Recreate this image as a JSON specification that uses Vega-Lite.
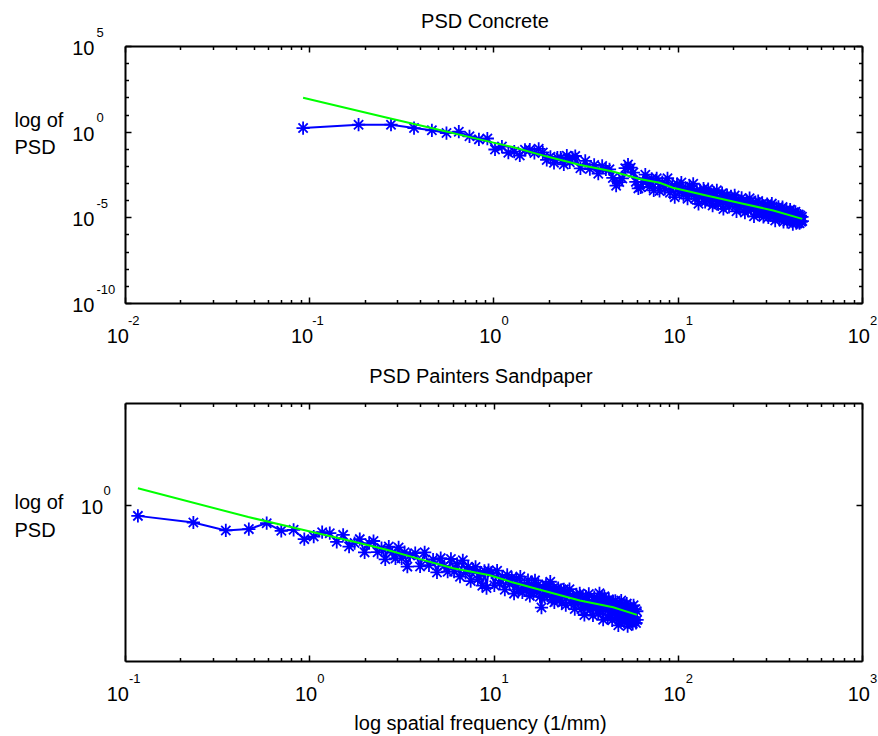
{
  "$schema": "https://vega.github.io/schema/vega-lite/v6.json",
  "padding": {"left": 14, "top": 11, "right": 0, "bottom": 0},
  "bounds": "flush",
  "spacing": 100,
  "config": {
    "font": "Liberation Sans",
    "view": {"stroke": null},
    "axis": {"grid": false, "domainColor": "black", "domainWidth": 2, "tickColor": "black", "tickWidth": 1.5,
      "labelFont": "Liberation Sans", "labelFontSize": 20, "labelColor": "black",
      "titleFont": "Liberation Sans", "titleFontSize": 20, "titleFontWeight": "normal", "titleColor": "black",
      "labelFlush": false, "labelOverlap": false, "minExtent": 0},
    "title": {"font": "Liberation Sans", "fontSize": 20, "fontWeight": "normal", "color": "black"},
    "text": {"font": "Liberation Sans", "color": "black"}
  },
  "datasets": {
    "concrete": [
      {"f":0.0926,"logPSD":0.21},{"f":0.1852,"logPSD":0.41},{"f":0.2778,"logPSD":0.41},{"f":0.3704,"logPSD":0.21},{"f":0.463,"logPSD":0.08},
      {"f":0.5556,"logPSD":-0.08},{"f":0.6482,"logPSD":0.0},{"f":0.7408,"logPSD":-0.27},{"f":0.8334,"logPSD":-0.45},{"f":0.926,"logPSD":-0.4},
      {"f":1.019,"logPSD":-1.04},{"f":1.111,"logPSD":-0.87},{"f":1.204,"logPSD":-1.23},{"f":1.296,"logPSD":-1.16},{"f":1.389,"logPSD":-1.39},
      {"f":1.482,"logPSD":-1.06},{"f":1.574,"logPSD":-1.05},{"f":1.667,"logPSD":-1.24},{"f":1.759,"logPSD":-1.0},{"f":1.852,"logPSD":-1.21},
      {"f":1.945,"logPSD":-1.65},{"f":2.037,"logPSD":-1.47},{"f":2.13,"logPSD":-1.82},{"f":2.222,"logPSD":-1.52},{"f":2.315,"logPSD":-1.52},
      {"f":2.408,"logPSD":-1.91},{"f":2.5,"logPSD":-1.4},{"f":2.593,"logPSD":-1.79},{"f":2.685,"logPSD":-1.53},{"f":2.778,"logPSD":-1.42},
      {"f":2.963,"logPSD":-2.14},{"f":3.148,"logPSD":-1.71},{"f":3.334,"logPSD":-2.18},{"f":3.519,"logPSD":-1.94},{"f":3.704,"logPSD":-2.45},
      {"f":3.889,"logPSD":-2.0},{"f":4.074,"logPSD":-2.2},{"f":4.26,"logPSD":-2.2},{"f":4.445,"logPSD":-2.7},{"f":4.63,"logPSD":-3.15},
      {"f":4.815,"logPSD":-2.94},{"f":5.0,"logPSD":-2.73},{"f":5.186,"logPSD":-2.13},{"f":5.371,"logPSD":-1.92},{"f":5.556,"logPSD":-2.1},
      {"f":5.741,"logPSD":-2.39},{"f":5.926,"logPSD":-2.93},{"f":6.112,"logPSD":-3.31},{"f":6.297,"logPSD":-3.25},{"f":6.482,"logPSD":-2.93},
      {"f":6.667,"logPSD":-2.51},{"f":6.852,"logPSD":-2.84},{"f":7.038,"logPSD":-3.22},{"f":7.223,"logPSD":-2.75},{"f":7.408,"logPSD":-3.43},
      {"f":7.686,"logPSD":-2.72},{"f":7.964,"logPSD":-3.46},{"f":8.241,"logPSD":-2.95},{"f":8.519,"logPSD":-3.34},{"f":8.797,"logPSD":-2.72},
      {"f":9.075,"logPSD":-3.56},{"f":9.353,"logPSD":-3.14},{"f":9.63,"logPSD":-3.82},{"f":9.908,"logPSD":-3.06},{"f":10.19,"logPSD":-3.49},
      {"f":10.46,"logPSD":-2.97},{"f":10.74,"logPSD":-3.7},{"f":11.02,"logPSD":-3.38},{"f":11.3,"logPSD":-3.91},{"f":11.58,"logPSD":-3.18},
      {"f":11.85,"logPSD":-3.61},{"f":12.13,"logPSD":-3.04},{"f":12.41,"logPSD":-3.91},{"f":12.69,"logPSD":-3.44},{"f":12.96,"logPSD":-4.21},
      {"f":13.24,"logPSD":-3.43},{"f":13.52,"logPSD":-3.81},{"f":13.8,"logPSD":-3.33},{"f":14.08,"logPSD":-4.1},{"f":14.35,"logPSD":-3.68},
      {"f":14.63,"logPSD":-3.35},{"f":14.91,"logPSD":-4.07},{"f":15.19,"logPSD":-3.64},{"f":15.46,"logPSD":-4.31},{"f":15.74,"logPSD":-3.58},
      {"f":16.02,"logPSD":-3.95},{"f":16.3,"logPSD":-3.42},{"f":16.58,"logPSD":-4.24},{"f":16.85,"logPSD":-3.81},{"f":17.13,"logPSD":-4.18},
      {"f":17.41,"logPSD":-3.59},{"f":17.69,"logPSD":-4.51},{"f":17.96,"logPSD":-3.78},{"f":18.24,"logPSD":-4.15},{"f":18.52,"logPSD":-3.71},
      {"f":18.98,"logPSD":-4.39},{"f":19.45,"logPSD":-3.77},{"f":19.91,"logPSD":-4.19},{"f":20.37,"logPSD":-3.72},{"f":20.84,"logPSD":-4.65},
      {"f":21.3,"logPSD":-4.02},{"f":21.76,"logPSD":-4.45},{"f":22.22,"logPSD":-3.87},{"f":22.69,"logPSD":-4.29},{"f":23.15,"logPSD":-4.72},
      {"f":23.61,"logPSD":-4.04},{"f":24.08,"logPSD":-4.61},{"f":24.54,"logPSD":-3.88},{"f":25.0,"logPSD":-4.5},{"f":25.47,"logPSD":-4.27},
      {"f":25.93,"logPSD":-4.94},{"f":26.39,"logPSD":-4.11},{"f":26.85,"logPSD":-4.63},{"f":27.32,"logPSD":-4.05},{"f":27.78,"logPSD":-4.82},
      {"f":28.24,"logPSD":-4.44},{"f":28.71,"logPSD":-4.21},{"f":29.17,"logPSD":-4.98},{"f":29.63,"logPSD":-4.34},{"f":30.1,"logPSD":-4.66},
      {"f":30.56,"logPSD":-4.23},{"f":31.02,"logPSD":-5.0},{"f":31.48,"logPSD":-4.51},{"f":31.95,"logPSD":-4.88},{"f":32.41,"logPSD":-4.2},
      {"f":32.87,"logPSD":-4.96},{"f":33.34,"logPSD":-4.53},{"f":33.8,"logPSD":-5.19},{"f":34.26,"logPSD":-4.46},{"f":34.73,"logPSD":-4.77},
      {"f":35.19,"logPSD":-4.39},{"f":35.65,"logPSD":-5.1},{"f":36.11,"logPSD":-4.72},{"f":36.58,"logPSD":-4.98},{"f":37.04,"logPSD":-4.4},
      {"f":37.5,"logPSD":-5.26},{"f":37.97,"logPSD":-4.62},{"f":38.43,"logPSD":-4.94},{"f":38.89,"logPSD":-4.55},{"f":39.36,"logPSD":-5.26},
      {"f":39.82,"logPSD":-4.78},{"f":40.28,"logPSD":-5.14},{"f":40.74,"logPSD":-4.55},{"f":41.21,"logPSD":-5.07},{"f":41.67,"logPSD":-4.73},
      {"f":42.13,"logPSD":-5.39},{"f":42.6,"logPSD":-4.7},{"f":43.06,"logPSD":-5.02},{"f":43.52,"logPSD":-4.68},{"f":43.99,"logPSD":-5.34},
      {"f":44.45,"logPSD":-4.9},{"f":44.91,"logPSD":-5.26},{"f":45.37,"logPSD":-4.83},{"f":45.84,"logPSD":-5.34},{"f":46.3,"logPSD":-4.9},
      {"f":46.76,"logPSD":-5.26},{"f":47.23,"logPSD":-4.97},{"f":47.41,"logPSD":-5.22}
    ],
    "concreteFit": [
      {"f":0.0926,"logPSD":1.98},{"f":0.272,"logPSD":0.78},{"f":0.466,"logPSD":0.2},{"f":0.839,"logPSD":-0.45},{"f":1.27,"logPSD":-0.9},
      {"f":1.93,"logPSD":-1.44},{"f":2.93,"logPSD":-1.93},{"f":4.44,"logPSD":-2.33},{"f":6.21,"logPSD":-2.76},{"f":7.98,"logPSD":-2.98},
      {"f":9.42,"logPSD":-3.27},{"f":14.3,"logPSD":-3.73},{"f":21.7,"logPSD":-4.16},{"f":33.0,"logPSD":-4.6},{"f":47.41,"logPSD":-5.09}
    ],
    "sand": [
      {"f":0.1175,"logPSD":-0.065},{"f":0.235,"logPSD":-0.104},{"f":0.3525,"logPSD":-0.151},{"f":0.47,"logPSD":-0.143},{"f":0.5875,"logPSD":-0.108},
      {"f":0.705,"logPSD":-0.153},{"f":0.8225,"logPSD":-0.147},{"f":0.94,"logPSD":-0.202},{"f":1.0575,"logPSD":-0.187},{"f":1.175,"logPSD":-0.161},
      {"f":1.2925,"logPSD":-0.167},{"f":1.41,"logPSD":-0.218},{"f":1.5275,"logPSD":-0.177},{"f":1.645,"logPSD":-0.246},{"f":1.7625,"logPSD":-0.225},
      {"f":1.88,"logPSD":-0.202},{"f":1.9975,"logPSD":-0.28},{"f":2.115,"logPSD":-0.226},{"f":2.2325,"logPSD":-0.213},{"f":2.35,"logPSD":-0.279},
      {"f":2.4675,"logPSD":-0.255},{"f":2.585,"logPSD":-0.321},{"f":2.7025,"logPSD":-0.246},{"f":2.82,"logPSD":-0.281},{"f":2.9375,"logPSD":-0.316},
      {"f":3.055,"logPSD":-0.251},{"f":3.1725,"logPSD":-0.315},{"f":3.29,"logPSD":-0.279},{"f":3.4075,"logPSD":-0.364},{"f":3.525,"logPSD":-0.298},
      {"f":3.76,"logPSD":-0.285},{"f":3.995,"logPSD":-0.363},{"f":4.23,"logPSD":-0.28},{"f":4.465,"logPSD":-0.356},{"f":4.7,"logPSD":-0.322},
      {"f":4.935,"logPSD":-0.398},{"f":5.17,"logPSD":-0.314},{"f":5.405,"logPSD":-0.359},{"f":5.64,"logPSD":-0.394},{"f":5.875,"logPSD":-0.319},
      {"f":6.11,"logPSD":-0.394},{"f":6.345,"logPSD":-0.348},{"f":6.58,"logPSD":-0.423},{"f":6.815,"logPSD":-0.327},{"f":7.05,"logPSD":-0.401},
      {"f":7.285,"logPSD":-0.365},{"f":7.52,"logPSD":-0.449},{"f":7.755,"logPSD":-0.382},{"f":7.99,"logPSD":-0.366},{"f":8.225,"logPSD":-0.439},
      {"f":8.46,"logPSD":-0.403},{"f":8.695,"logPSD":-0.476},{"f":8.93,"logPSD":-0.389},{"f":9.165,"logPSD":-0.49},{"f":9.4,"logPSD":-0.385},
      {"f":9.753,"logPSD":-0.4},{"f":10.105,"logPSD":-0.474},{"f":10.46,"logPSD":-0.388},{"f":10.81,"logPSD":-0.462},{"f":11.16,"logPSD":-0.426},
      {"f":11.52,"logPSD":-0.5},{"f":11.87,"logPSD":-0.413},{"f":12.22,"logPSD":-0.467},{"f":12.57,"logPSD":-0.43},{"f":12.93,"logPSD":-0.523},
      {"f":13.28,"logPSD":-0.447},{"f":13.63,"logPSD":-0.5},{"f":13.98,"logPSD":-0.423},{"f":14.34,"logPSD":-0.516},{"f":14.69,"logPSD":-0.469},
      {"f":15.04,"logPSD":-0.502},{"f":15.39,"logPSD":-0.444},{"f":15.75,"logPSD":-0.537},{"f":16.1,"logPSD":-0.47},{"f":16.45,"logPSD":-0.522},
      {"f":16.8,"logPSD":-0.445},{"f":17.16,"logPSD":-0.507},{"f":17.51,"logPSD":-0.47},{"f":17.86,"logPSD":-0.542},{"f":18.21,"logPSD":-0.605},
      {"f":18.57,"logPSD":-0.487},{"f":18.92,"logPSD":-0.539},{"f":19.27,"logPSD":-0.471},{"f":19.62,"logPSD":-0.533},{"f":19.98,"logPSD":-0.506},
      {"f":20.33,"logPSD":-0.453},{"f":20.68,"logPSD":-0.56},{"f":21.03,"logPSD":-0.492},{"f":21.39,"logPSD":-0.574},{"f":21.74,"logPSD":-0.506},
      {"f":22.09,"logPSD":-0.548},{"f":22.44,"logPSD":-0.49},{"f":22.8,"logPSD":-0.561},{"f":23.15,"logPSD":-0.503},{"f":23.5,"logPSD":-0.575},
      {"f":24.09,"logPSD":-0.498},{"f":24.68,"logPSD":-0.591},{"f":25.26,"logPSD":-0.524},{"f":25.85,"logPSD":-0.497},{"f":26.44,"logPSD":-0.579},
      {"f":27.03,"logPSD":-0.542},{"f":27.61,"logPSD":-0.614},{"f":28.2,"logPSD":-0.527},{"f":28.79,"logPSD":-0.579},{"f":29.38,"logPSD":-0.522},
      {"f":29.96,"logPSD":-0.614},{"f":30.55,"logPSD":-0.547},{"f":31.14,"logPSD":-0.649},{"f":31.73,"logPSD":-0.541},{"f":32.31,"logPSD":-0.603},
      {"f":32.9,"logPSD":-0.525},{"f":33.49,"logPSD":-0.618},{"f":34.08,"logPSD":-0.57},{"f":34.66,"logPSD":-0.652},{"f":35.25,"logPSD":-0.544},
      {"f":35.84,"logPSD":-0.606},{"f":36.43,"logPSD":-0.558},{"f":37.01,"logPSD":-0.64},{"f":37.6,"logPSD":-0.521},{"f":38.19,"logPSD":-0.623},
      {"f":38.78,"logPSD":-0.545},{"f":39.36,"logPSD":-0.677},{"f":39.95,"logPSD":-0.539},{"f":40.54,"logPSD":-0.62},{"f":41.13,"logPSD":-0.572},
      {"f":41.71,"logPSD":-0.664},{"f":42.3,"logPSD":-0.556},{"f":42.89,"logPSD":-0.647},{"f":43.48,"logPSD":-0.589},{"f":44.06,"logPSD":-0.68},
      {"f":44.65,"logPSD":-0.572},{"f":45.24,"logPSD":-0.644},{"f":45.83,"logPSD":-0.565},{"f":46.41,"logPSD":-0.667},{"f":47.0,"logPSD":-0.598},
      {"f":47.59,"logPSD":-0.71},{"f":48.18,"logPSD":-0.581},{"f":48.76,"logPSD":-0.643},{"f":49.35,"logPSD":-0.564},{"f":49.94,"logPSD":-0.675},
      {"f":50.53,"logPSD":-0.617},{"f":51.11,"logPSD":-0.688},{"f":51.7,"logPSD":-0.59},{"f":52.29,"logPSD":-0.661},{"f":52.88,"logPSD":-0.582},
      {"f":53.46,"logPSD":-0.714},{"f":54.05,"logPSD":-0.605},{"f":54.64,"logPSD":-0.676},{"f":55.23,"logPSD":-0.598},{"f":55.81,"logPSD":-0.689},
      {"f":56.4,"logPSD":-0.62},{"f":56.99,"logPSD":-0.701},{"f":57.58,"logPSD":-0.592},{"f":58.16,"logPSD":-0.684},{"f":58.75,"logPSD":-0.615},
      {"f":59.34,"logPSD":-0.696},{"f":59.93,"logPSD":-0.627},{"f":60.16,"logPSD":-0.678}
    ],
    "sandFit": [
      {"f":0.1175,"logPSD":0.098},{"f":0.467,"logPSD":-0.072},{"f":1.01,"logPSD":-0.157},{"f":1.73,"logPSD":-0.216},{"f":2.63,"logPSD":-0.265},
      {"f":3.99,"logPSD":-0.32},{"f":6.04,"logPSD":-0.373},{"f":9.55,"logPSD":-0.415},{"f":12.8,"logPSD":-0.458},{"f":19.4,"logPSD":-0.511},
      {"f":29.4,"logPSD":-0.564},{"f":44.6,"logPSD":-0.603},{"f":60.16,"logPSD":-0.648}
    ],
    "xexpTop": [{"v":0.01,"e":"-2"},{"v":0.1,"e":"-1"},{"v":1,"e":"0"},{"v":10,"e":"1"},{"v":100,"e":"2"}],
    "xexpBot": [{"v":0.1,"e":"-1"},{"v":1,"e":"0"},{"v":10,"e":"1"},{"v":100,"e":"2"},{"v":1000,"e":"3"}],
    "yexpTop": [{"v":5,"e":"5"},{"v":0,"e":"0"},{"v":-5,"e":"-5"},{"v":-10,"e":"-10"}],
    "yexpBot": [{"v":0,"e":"0"}]
  },
  "vconcat": [
    {
      "width": 737, "height": 257,
      "title": {"text": "PSD Concrete", "frame": "group", "anchor": "middle", "baseline": "alphabetic", "offset": -21.4, "dx": -8.5},
      "layer": [
        {
          "data": {"name": "concrete"},
          "mark": {"type": "line", "color": "#0000ff", "strokeWidth": 2},
          "encoding": {
            "x": {"field": "f", "type": "quantitative", "scale": {"type": "log", "domain": [0.01, 100], "nice": false},
              "axis": {"orient": "bottom", "title": null,
                "values": [0.01,0.02,0.03,0.04,0.05,0.06,0.07,0.08,0.09,0.1,0.2,0.3,0.4,0.5,0.6,0.7,0.8,0.9,1,2,3,4,5,6,7,8,9,10,20,30,40,50,60,70,80,90,100],
                "labelExpr": "abs(log(datum.value)/LN10 - round(log(datum.value)/LN10)) < 0.001 ? '10' : ''",
                "labelAlign": "right", "labelBaseline": "alphabetic",
                "labelOffset": {"condition": {"test": "datum.value < 0.5", "value": 3.4}, "value": 7.4},
                "labelPadding": 45.5,
                "tickSize": {"condition": {"test": "abs(log(datum.value)/LN10 - round(log(datum.value)/LN10)) < 0.001", "value": -6}, "value": -3.5}}},
            "y": {"field": "logPSD", "type": "quantitative", "scale": {"domain": [-10, 5], "nice": false, "zero": false},
              "axis": {"orient": "left", "values": [-10,-9,-8,-7,-6,-5,-4,-3,-2,-1,0,1,2,3,4,5],
                "labelExpr": "datum.value % 5 == 0 ? '10' : ''",
                "labelAlign": "right", "labelBaseline": "alphabetic", "labelOffset": 8.5, "labelPadding": 37,
                "tickSize": {"condition": {"test": "datum.value % 5 == 0", "value": -6}, "value": -3.5},
                "title": ["log of", "PSD"], "titleAngle": 0, "titleAlign": "left", "titleBaseline": "alphabetic",
                "titleX": -111, "titleY": 80, "titleLineHeight": 27.5}}
          }
        },
        {
          "data": {"name": "concrete"},
          "mark": {"type": "point", "shape": "M-1,0H1M0,-1V1M-0.7,-0.7L0.7,0.7M-0.7,0.7L0.7,-0.7", "filled": false, "color": "#0000ff", "strokeWidth": 1.8, "size": 175, "opacity": 1},
          "encoding": {
            "x": {"field": "f", "type": "quantitative", "scale": {"type": "log", "domain": [0.01, 100], "nice": false}, "axis": null},
            "y": {"field": "logPSD", "type": "quantitative", "scale": {"domain": [-10, 5], "nice": false, "zero": false}, "axis": null}
          }
        },
        {
          "data": {"name": "concreteFit"},
          "mark": {"type": "line", "color": "#00ff00", "strokeWidth": 2},
          "encoding": {
            "x": {"field": "f", "type": "quantitative", "scale": {"type": "log", "domain": [0.01, 100], "nice": false},
              "axis": {"orient": "top", "title": null, "labels": false,
                "values": [0.01,0.02,0.03,0.04,0.05,0.06,0.07,0.08,0.09,0.1,0.2,0.3,0.4,0.5,0.6,0.7,0.8,0.9,1,2,3,4,5,6,7,8,9,10,20,30,40,50,60,70,80,90,100],
                "tickSize": {"condition": {"test": "abs(log(datum.value)/LN10 - round(log(datum.value)/LN10)) < 0.001", "value": -6}, "value": -3.5}}},
            "y": {"field": "logPSD", "type": "quantitative", "scale": {"domain": [-10, 5], "nice": false, "zero": false},
              "axis": {"orient": "right", "title": null, "labels": false, "values": [-10,-9,-8,-7,-6,-5,-4,-3,-2,-1,0,1,2,3,4,5],
                "tickSize": {"condition": {"test": "datum.value % 5 == 0", "value": -6}, "value": -3.5}}}
          }
        },
        {
          "data": {"name": "xexpTop"},
          "transform": [{"filter": "datum.v < 0.5"}],
          "mark": {"type": "text", "align": "left", "baseline": "alphabetic", "dx": 3, "dy": 22, "fontSize": 13},
          "encoding": {
            "x": {"field": "v", "type": "quantitative", "scale": {"type": "log", "domain": [0.01, 100], "nice": false}, "axis": null},
            "y": {"datum": -10, "type": "quantitative", "axis": null},
            "text": {"field": "e"}
          }
        },
        {
          "data": {"name": "xexpTop"},
          "transform": [{"filter": "datum.v >= 0.5"}],
          "mark": {"type": "text", "align": "left", "baseline": "alphabetic", "dx": 8, "dy": 22, "fontSize": 13},
          "encoding": {
            "x": {"field": "v", "type": "quantitative", "scale": {"type": "log", "domain": [0.01, 100], "nice": false}, "axis": null},
            "y": {"datum": -10, "type": "quantitative", "axis": null},
            "text": {"field": "e"}
          }
        },
        {
          "data": {"name": "yexpTop"},
          "mark": {"type": "text", "align": "left", "baseline": "alphabetic", "dx": -28.6, "dy": -9.5, "fontSize": 13},
          "encoding": {
            "x": {"datum": 0.01, "type": "quantitative", "axis": null},
            "y": {"field": "v", "type": "quantitative", "axis": null},
            "text": {"field": "e"}
          }
        }
      ]
    },
    {
      "width": 737, "height": 258,
      "title": {"text": "PSD Painters Sandpaper", "frame": "group", "anchor": "middle", "baseline": "alphabetic", "offset": -1, "dx": -12.5},
      "layer": [
        {
          "data": {"name": "sand"},
          "mark": {"type": "line", "color": "#0000ff", "strokeWidth": 2},
          "encoding": {
            "x": {"field": "f", "type": "quantitative", "scale": {"type": "log", "domain": [0.1, 1000], "nice": false},
              "axis": {"orient": "bottom", "title": "log spatial frequency (1/mm)", "titleX": 355, "titleY": 68.5, "titleAlign": "center", "titleBaseline": "alphabetic",
                "values": [0.1,0.2,0.3,0.4,0.5,0.6,0.7,0.8,0.9,1,2,3,4,5,6,7,8,9,10,20,30,40,50,60,70,80,90,100,200,300,400,500,600,700,800,900,1000],
                "labelExpr": "abs(log(datum.value)/LN10 - round(log(datum.value)/LN10)) < 0.001 ? '10' : ''",
                "labelAlign": "right", "labelBaseline": "alphabetic",
                "labelOffset": {"condition": {"test": "datum.value < 0.5", "value": 3.4}, "value": 7.4},
                "labelPadding": 45,
                "tickSize": {"condition": {"test": "abs(log(datum.value)/LN10 - round(log(datum.value)/LN10)) < 0.001", "value": -6}, "value": -3.5}}},
            "y": {"field": "logPSD", "type": "quantitative", "scale": {"domain": [-0.92, 0.6], "nice": false, "zero": false},
              "axis": {"orient": "left", "values": [0], "labelExpr": "'10'",
                "labelAlign": "right", "labelBaseline": "alphabetic", "labelOffset": 8.3, "labelPadding": 28.4, "tickSize": -6,
                "title": ["log of", "PSD"], "titleAngle": 0, "titleAlign": "left", "titleBaseline": "alphabetic",
                "titleX": -111, "titleY": 105.6, "titleLineHeight": 28}}
          }
        },
        {
          "data": {"name": "sand"},
          "mark": {"type": "point", "shape": "M-1,0H1M0,-1V1M-0.7,-0.7L0.7,0.7M-0.7,0.7L0.7,-0.7", "filled": false, "color": "#0000ff", "strokeWidth": 1.8, "size": 175, "opacity": 1},
          "encoding": {
            "x": {"field": "f", "type": "quantitative", "scale": {"type": "log", "domain": [0.1, 1000], "nice": false}, "axis": null},
            "y": {"field": "logPSD", "type": "quantitative", "scale": {"domain": [-0.92, 0.6], "nice": false, "zero": false}, "axis": null}
          }
        },
        {
          "data": {"name": "sandFit"},
          "mark": {"type": "line", "color": "#00ff00", "strokeWidth": 2},
          "encoding": {
            "x": {"field": "f", "type": "quantitative", "scale": {"type": "log", "domain": [0.1, 1000], "nice": false},
              "axis": {"orient": "top", "title": null, "labels": false,
                "values": [0.1,0.2,0.3,0.4,0.5,0.6,0.7,0.8,0.9,1,2,3,4,5,6,7,8,9,10,20,30,40,50,60,70,80,90,100,200,300,400,500,600,700,800,900,1000],
                "tickSize": {"condition": {"test": "abs(log(datum.value)/LN10 - round(log(datum.value)/LN10)) < 0.001", "value": -6}, "value": -3.5}}},
            "y": {"field": "logPSD", "type": "quantitative", "scale": {"domain": [-0.92, 0.6], "nice": false, "zero": false},
              "axis": {"orient": "right", "title": null, "labels": false, "values": [0], "tickSize": -6}}
          }
        },
        {
          "data": {"name": "xexpBot"},
          "transform": [{"filter": "datum.v < 0.5"}],
          "mark": {"type": "text", "align": "left", "baseline": "alphabetic", "dx": 4, "dy": 21.5, "fontSize": 13},
          "encoding": {
            "x": {"field": "v", "type": "quantitative", "scale": {"type": "log", "domain": [0.1, 1000], "nice": false}, "axis": null},
            "y": {"datum": -0.92, "type": "quantitative", "axis": null},
            "text": {"field": "e"}
          }
        },
        {
          "data": {"name": "xexpBot"},
          "transform": [{"filter": "datum.v >= 0.5"}],
          "mark": {"type": "text", "align": "left", "baseline": "alphabetic", "dx": 8, "dy": 21.5, "fontSize": 13},
          "encoding": {
            "x": {"field": "v", "type": "quantitative", "scale": {"type": "log", "domain": [0.1, 1000], "nice": false}, "axis": null},
            "y": {"datum": -0.92, "type": "quantitative", "axis": null},
            "text": {"field": "e"}
          }
        },
        {
          "data": {"name": "yexpBot"},
          "mark": {"type": "text", "align": "left", "baseline": "alphabetic", "dx": -21.6, "dy": -10, "fontSize": 13},
          "encoding": {
            "x": {"datum": 0.1, "type": "quantitative", "axis": null},
            "y": {"field": "v", "type": "quantitative", "axis": null},
            "text": {"field": "e"}
          }
        }
      ]
    }
  ]
}
